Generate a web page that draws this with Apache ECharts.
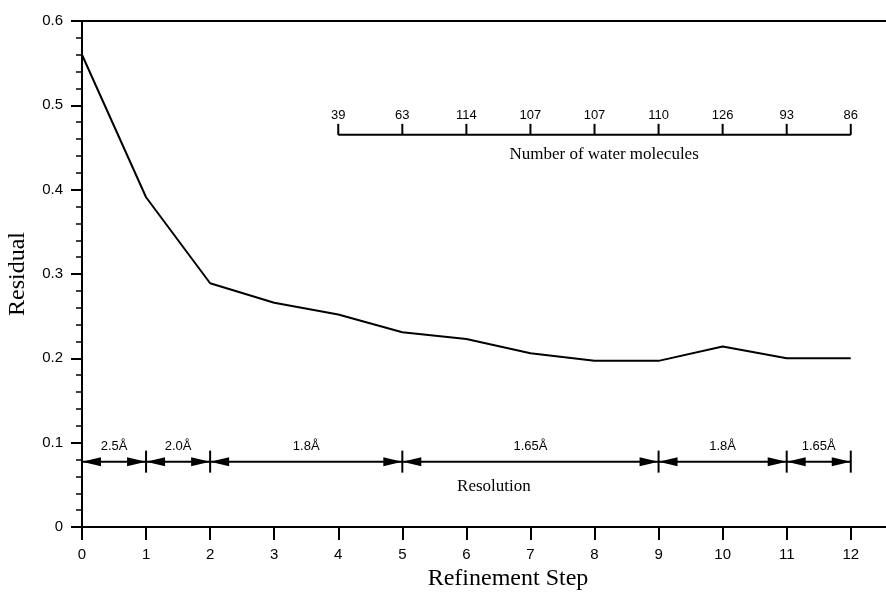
<!DOCTYPE html>
<html>
<head>
<meta charset="utf-8">
<script src="https://cdn.jsdelivr.net/npm/echarts@6/dist/echarts.min.js"></script>
<style>
html,body{margin:0;padding:0;background:#fff;}
#chart{width:886px;height:595px;}
</style>
</head>
<body>
<div id="chart"></div>
<script>
// ---- data ----
var steps = [0, 1, 2, 3, 4, 5, 6, 7, 8, 9, 10, 11, 12];
var residual = [0.560, 0.391, 0.289, 0.266, 0.252, 0.231, 0.223, 0.206, 0.197, 0.197, 0.214, 0.200, 0.200];
var yTicks = [0, 0.1, 0.2, 0.3, 0.4, 0.5, 0.6];

var waterSteps = [4, 5, 6, 7, 8, 9, 10, 11, 12];
var waterCounts = [39, 63, 114, 107, 107, 110, 126, 93, 86];
var waterLevel = 0.465;
var waterTitle = 'Number of water molecules';

var resStarts = [0, 1, 2, 5, 9, 11];
var resEnds = [1, 2, 5, 9, 11, 12];
var resLabels = ['2.5Å', '2.0Å', '1.8Å', '1.65Å', '1.8Å', '1.65Å'];
var resLevel = 0.0775;
var resTitle = 'Resolution';

var xTitle = 'Refinement Step';
var yTitle = 'Residual';

// ---- chart ----
var SANS = '"Liberation Sans", Arial, sans-serif';
var SERIF = '"Liberation Serif", "Times New Roman", serif';
var chart = echarts.init(document.getElementById('chart'));

function tri(tip, dir) {
  var L = 19, H = 4.5;
  return {
    type: 'polygon',
    shape: { points: [[tip[0], tip[1]], [tip[0] - dir * L, tip[1] - H], [tip[0] - dir * L, tip[1] + H]] },
    style: { fill: '#000' }
  };
}

var option = {
  animation: false,
  backgroundColor: '#fff',
  grid: { left: 82, right: 0, top: 21, bottom: 68, containLabel: false, outerBoundsMode: 'none' },
  xAxis: [{
    type: 'value', min: 0, max: 12.55, position: 'bottom',
    axisLine: { show: true, onZero: false, lineStyle: { color: '#000', width: 2 } },
    axisTick: { show: true, customValues: steps, length: 13, lineStyle: { color: '#000', width: 2 } },
    axisLabel: { customValues: steps, margin: 20, fontSize: 15, fontFamily: SANS, color: '#000' },
    splitLine: { show: false },
    name: xTitle, nameLocation: 'middle', nameGap: 39,
    nameTextStyle: { fontFamily: SERIF, fontSize: 24, color: '#000', padding: [0, 0, 0, 48] }
  }, {
    type: 'value', min: 0, max: 12.55, position: 'top',
    axisLine: { show: true, onZero: false, lineStyle: { color: '#000', width: 2 } },
    axisTick: { show: false }, axisLabel: { show: false }, splitLine: { show: false }
  }],
  yAxis: {
    type: 'value', min: 0, max: 0.6, interval: 0.1,
    axisLine: { show: true, onZero: false, lineStyle: { color: '#000', width: 2 } },
    axisTick: { show: true, length: 11, lineStyle: { color: '#000', width: 2 } },
    minorTick: { show: true, splitNumber: 5, length: 6, lineStyle: { color: '#000', width: 1.5 } },
    axisLabel: {
      margin: 19, fontSize: 15, fontFamily: SANS, color: '#000',
      formatter: function (v) { return v === 0 ? '0' : v.toFixed(1); }
    },
    splitLine: { show: false },
    name: yTitle, nameLocation: 'middle', nameGap: 52,
    nameTextStyle: { fontFamily: SERIF, fontSize: 24, color: '#000' }
  },
  series: [{
    type: 'line',
    data: steps.map(function (s, i) { return [s, residual[i]]; }),
    symbol: 'none',
    lineStyle: { color: '#000', width: 2 },
    z: 5
  }, {
    type: 'custom',
    data: waterSteps.map(function (s, i) { return [s, waterCounts[i], waterLevel]; }),
    encode: { x: 0, y: 2 },
    clip: false,
    renderItem: function (params, api) {
      var p = api.coord([api.value(0), api.value(2)]);
      var children = [{
        type: 'line', shape: { x1: p[0], y1: p[1], x2: p[0], y2: p[1] - 11 },
        style: { stroke: '#000', lineWidth: 2 }
      }, {
        type: 'text',
        style: { text: String(api.value(1)), x: p[0], y: p[1] - 19, align: 'center', verticalAlign: 'middle',
                 font: '13px ' + SANS, fill: '#000' }
      }];
      if (params.dataIndex === 0) {
        var last = waterSteps.length - 1;
        var q = api.coord([waterSteps[last], waterLevel]);
        children.push({ type: 'line', shape: { x1: p[0], y1: p[1], x2: q[0], y2: q[1] },
                        style: { stroke: '#000', lineWidth: 2 } });
        var mid = api.coord([(waterSteps[0] + waterSteps[last]) / 2 + 0.15, waterLevel]);
        children.push({ type: 'text',
          style: { text: waterTitle, x: mid[0], y: mid[1] + 20, align: 'center', verticalAlign: 'middle',
                   font: '17px ' + SERIF, fill: '#000' } });
      }
      return { type: 'group', children: children };
    }
  }, {
    type: 'custom',
    data: resStarts.map(function (s, i) { return [s, resEnds[i], resLevel]; }),
    encode: { x: [0, 1], y: 2 },
    clip: false,
    renderItem: function (params, api) {
      var a = api.coord([api.value(0), api.value(2)]);
      var b = api.coord([api.value(1), api.value(2)]);
      var children = [
        { type: 'line', shape: { x1: a[0], y1: a[1], x2: b[0], y2: b[1] }, style: { stroke: '#000', lineWidth: 2 } },
        tri(a, -1), tri(b, 1),
        { type: 'line', shape: { x1: b[0], y1: b[1] - 11, x2: b[0], y2: b[1] + 11 }, style: { stroke: '#000', lineWidth: 2 } },
        { type: 'text', style: { text: resLabels[params.dataIndex], x: (a[0] + b[0]) / 2, y: a[1] - 15,
            align: 'center', verticalAlign: 'middle', font: '13px ' + SANS, fill: '#000' } }
      ];
      if (params.dataIndex === 0) {
        var c = api.coord([6.43, resLevel]);
        children.push({ type: 'text', style: { text: resTitle, x: c[0], y: c[1] + 25,
            align: 'center', verticalAlign: 'middle', font: '17px ' + SERIF, fill: '#000' } });
      }
      return { type: 'group', children: children };
    }
  }]
};
chart.setOption(option);
</script>
</body>
</html>
